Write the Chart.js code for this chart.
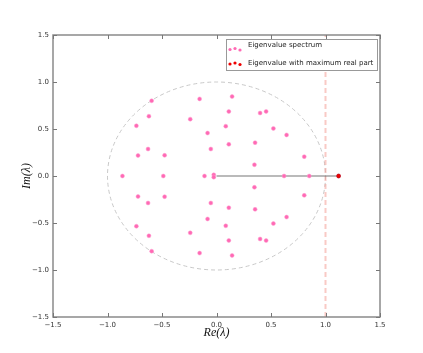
<!DOCTYPE html>
<html>
<head>
<meta charset="utf-8">
<script src="https://cdn.jsdelivr.net/npm/chart.js@4"></script>
<style>html,body{margin:0;padding:0;background:#fff}</style>
</head>
<body>
<canvas id="eigChart" width="423" height="353"></canvas>
<script>
// eigenvalues (real part, imaginary part)
const specRe = [-0.595, -0.155, 0.143, -0.62, 0.113, 0.40, 0.455, -0.735, -0.241, 0.085, 0.522,
    -0.082, 0.643, -0.628, -0.052, 0.113, 0.354, -0.72, -0.476, 0.805, 0.348, -0.025,
    -0.595, -0.155, 0.143, -0.62, 0.113, 0.40, 0.455, -0.735, -0.241, 0.085, 0.522,
    -0.082, 0.643, -0.628, -0.052, 0.113, 0.354, -0.72, -0.476, 0.805, 0.348, -0.025,
    -0.863, -0.488, -0.11, 0.62, 0.851, 1.12];
const specIm = [0.80, 0.82, 0.845, 0.636, 0.686, 0.67, 0.687, 0.534, 0.605, 0.53, 0.506,
    0.457, 0.437, 0.287, 0.287, 0.337, 0.355, 0.218, 0.22, 0.206, 0.12, 0.012,
    -0.80, -0.82, -0.845, -0.636, -0.686, -0.67, -0.687, -0.534, -0.605, -0.53, -0.506,
    -0.457, -0.437, -0.287, -0.287, -0.337, -0.355, -0.218, -0.22, -0.206, -0.12, -0.012,
    0, 0, 0, 0, 0, 0];
const maxRe = [1.12];
const maxIm = [0];
const xTicks = [-1.5, -1.0, -0.5, 0.0, 0.5, 1.0, 1.5];
const yTicks = [-1.5, -1.0, -0.5, 0.0, 0.5, 1.0, 1.5];
const unitRadius = 1.0;
const limitRe = 1.0;
const legendLabels = ['Eigenvalue spectrum', 'Eigenvalue with maximum real part'];

const pink = '#ff69b4';
const red = '#ee0000';

function fmtTick(v) {
    return (v < 0 ? '\u2212' : '') + Math.abs(v).toFixed(1);
}

const spectrum = specRe.map((re, i) => ({x: re, y: specIm[i]}));
const maxPoint = maxRe.map((re, i) => ({x: re, y: maxIm[i]}));

const decor = {
    id: 'decor',
    beforeDatasetsDraw(chart) {
        const ctx = chart.ctx, xs = chart.scales.x, ys = chart.scales.y;
        const cx = xs.getPixelForValue(0), cy = ys.getPixelForValue(0);
        const rx = xs.getPixelForValue(unitRadius) - cx;
        const ry = cy - ys.getPixelForValue(unitRadius);
        ctx.save();
        ctx.strokeStyle = '#c8c8c8';
        ctx.lineWidth = 1;
        ctx.setLineDash([4, 3]);
        ctx.beginPath();
        ctx.ellipse(cx, cy, rx, ry, 0, 0, Math.PI * 2);
        ctx.stroke();
        ctx.restore();
    },
    afterDraw(chart) {
        const ctx = chart.ctx, a = chart.chartArea;
        const xs = chart.scales.x, ys = chart.scales.y;
        ctx.save();
        // frame
        ctx.strokeStyle = '#8a8a8a';
        ctx.lineWidth = 1.5;
        ctx.strokeRect(a.left, a.top, a.right - a.left, a.bottom - a.top);
        // inward ticks on every side
        ctx.lineWidth = 1;
        ctx.strokeStyle = '#777';
        ctx.beginPath();
        xTicks.forEach(v => {
            const px = Math.round(xs.getPixelForValue(v)) + 0.5;
            ctx.moveTo(px, a.bottom); ctx.lineTo(px, a.bottom - 4);
            ctx.moveTo(px, a.top); ctx.lineTo(px, a.top + 4);
        });
        yTicks.forEach(v => {
            const py = Math.round(ys.getPixelForValue(v)) + 0.5;
            ctx.moveTo(a.left, py); ctx.lineTo(a.left + 4, py);
            ctx.moveTo(a.right, py); ctx.lineTo(a.right - 4, py);
        });
        ctx.stroke();
        // axis titles
        ctx.fillStyle = '#111';
        ctx.font = 'italic 12px "Liberation Serif"';
        ctx.textAlign = 'center';
        ctx.textBaseline = 'middle';
        ctx.fillText('Re(\u03bb)', (a.left + a.right) / 2, 333);
        ctx.translate(27, (a.top + a.bottom) / 2);
        ctx.rotate(-Math.PI / 2);
        ctx.fillText('Im(\u03bb)', 0, 0);
        ctx.setTransform(1, 0, 0, 1, 0, 0);
        // legend
        ctx.fillStyle = '#fff';
        ctx.fillRect(226, 39, 151, 31);
        ctx.strokeStyle = '#999';
        ctx.lineWidth = 1;
        ctx.strokeRect(226.5, 39.5, 151, 31);
        const dots = [[230, 0.5], [235, -0.5], [240, 1]];
        [[pink, 49], [red, 63.5]].forEach(([c, y]) => {
            ctx.fillStyle = c;
            dots.forEach(([dx, dy]) => {
                ctx.beginPath();
                ctx.arc(dx, y + dy, 1.6, 0, Math.PI * 2);
                ctx.fill();
            });
        });
        ctx.fillStyle = '#222';
        ctx.font = '7px "DejaVu Sans"';
        ctx.textAlign = 'left';
        ctx.fillText(legendLabels[0], 248, 45);
        ctx.fillText(legendLabels[1], 248, 63.5);
        ctx.restore();
    }
};

const eigConfig = {
    type: 'scatter',
    data: {
        datasets: [
            {
                label: 'limit',
                type: 'line',
                data: [{x: limitRe, y: yTicks[0]}, {x: limitRe, y: yTicks[yTicks.length - 1]}],
                borderColor: 'rgba(244,150,140,0.5)',
                borderWidth: 2,
                borderDash: [5, 3],
                pointRadius: 0,
                order: 3
            },
            {
                label: 'to max',
                type: 'line',
                data: [{x: 0, y: 0}, maxPoint[0]],
                borderColor: '#777',
                borderWidth: 1.2,
                pointRadius: 0,
                order: 2
            },
            {
                label: legendLabels[0],
                data: spectrum,
                backgroundColor: pink,
                borderColor: '#ff9fd0',
                borderWidth: 0.5,
                pointRadius: 2,
                order: 1
            },
            {
                label: legendLabels[1],
                data: maxPoint,
                backgroundColor: red,
                borderColor: '#990000',
                borderWidth: 0.5,
                pointRadius: 2,
                order: 0
            }
        ]
    },
    options: {
        responsive: false,
        animation: false,
        layout: {padding: {left: 0, top: 35, right: 43, bottom: 0}},
        plugins: {legend: {display: false}, tooltip: {enabled: false}},
        scales: {
            x: {
                type: 'linear', min: -1.5, max: 1.5,
                afterBuildTicks: s => { s.ticks = xTicks.map(v => ({value: v})); },
                afterFit: s => { s.height = 36; },
                grid: {display: false, drawTicks: false},
                border: {display: false},
                ticks: {
                    autoSkip: false, maxRotation: 0, padding: 4, color: '#333',
                    font: {family: 'DejaVu Sans', size: 7},
                    callback: v => fmtTick(v)
                }
            },
            y: {
                type: 'linear', min: -1.5, max: 1.5,
                afterBuildTicks: s => { s.ticks = yTicks.map(v => ({value: v})); },
                afterFit: s => { s.width = 53; },
                grid: {display: false, drawTicks: false},
                border: {display: false},
                ticks: {
                    autoSkip: false, padding: 4, color: '#333',
                    font: {family: 'DejaVu Sans', size: 7},
                    callback: v => fmtTick(v)
                }
            }
        }
    },
    plugins: [decor]
};

let eigChart = new Chart(document.getElementById('eigChart'), eigConfig);
</script>
</body>
</html>
